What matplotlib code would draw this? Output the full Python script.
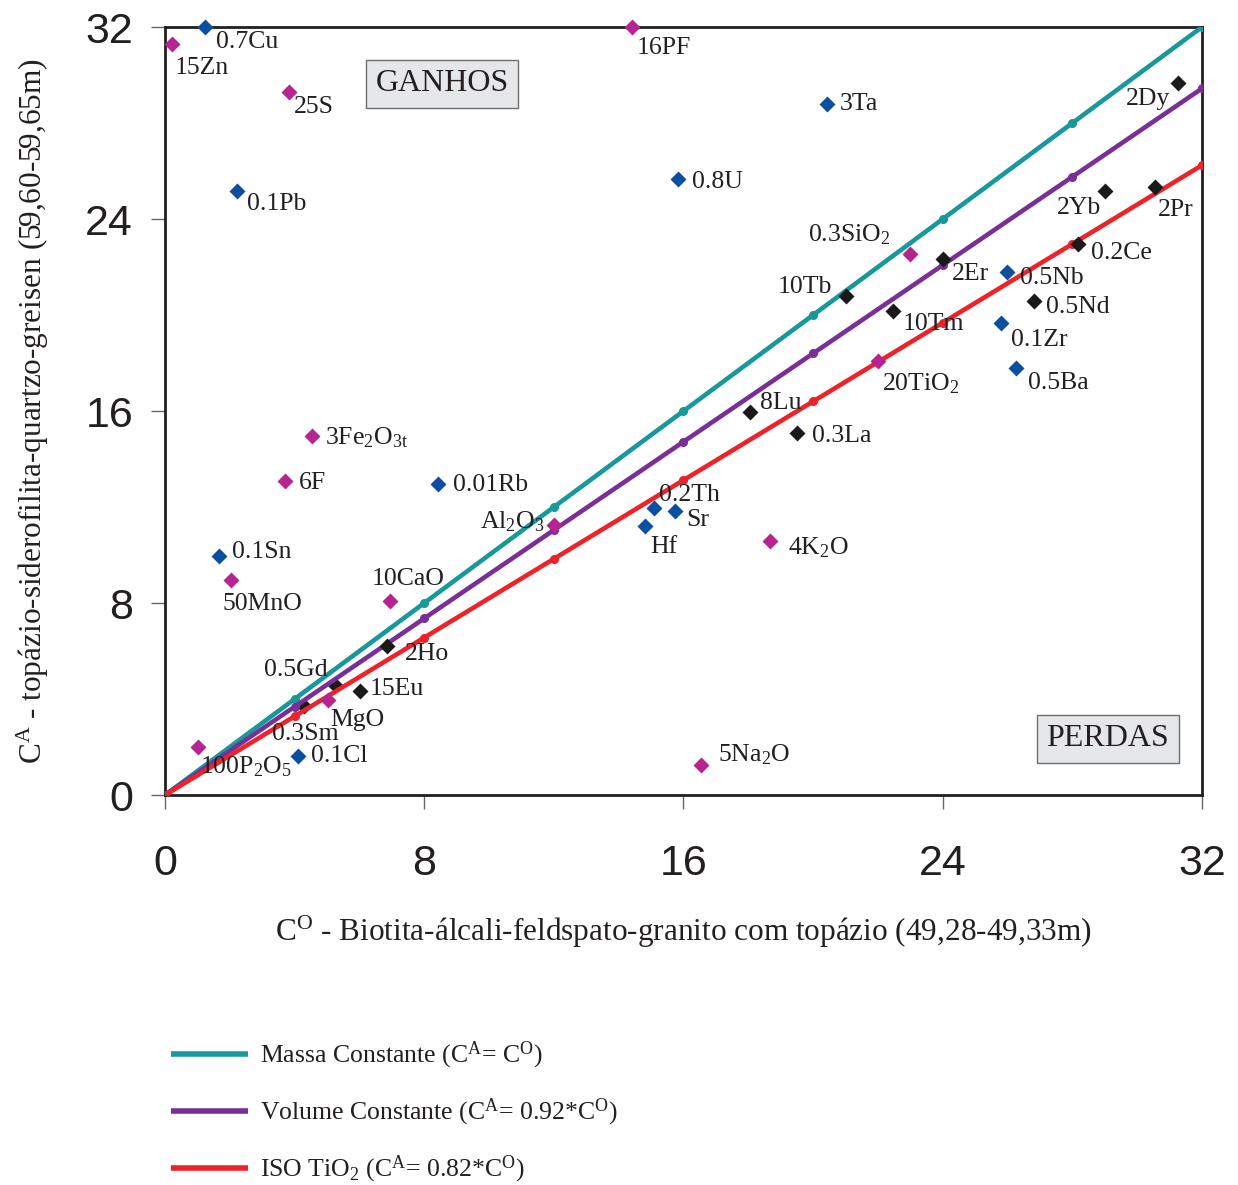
import matplotlib
matplotlib.use("Agg")
import matplotlib.pyplot as plt

plt.rcParams['font.family'] = ['Liberation Serif', 'DejaVu Serif']
plt.rcParams['mathtext.fontset'] = 'custom'
plt.rcParams['mathtext.rm'] = 'Liberation Serif'
plt.rcParams['mathtext.default'] = 'regular'

TXT = '#231f20'

# isocon lines: C^A = k * C^O
iso_slopes = [1.0, 0.92, 0.82]
iso_colors = ['#17989a', '#7a2f96', '#ee2229']
iso_labels = [r'Massa Constante (C$^{A}$= C$^{O}$)',
              r'Volume Constante (C$^{A}$= 0.92*C$^{O}$)',
              r'ISO TiO$_{2}$ (C$^{A}$= 0.82*C$^{O}$)']
iso_x = [0, 4, 8, 12, 16, 20, 24, 28, 32]

# scaled concentrations, grouped by symbol colour
blue_names = ['0.7Cu', '0.1Pb', '3Ta', '0.8U', '0.5Nb', '0.1Zr', '0.5Ba',
              '0.01Rb', '0.1Sn', '0.1Cl', '0.2Th', 'Sr', 'Hf']
blue_co = [1.23, 2.22, 20.43, 15.83, 25.99, 25.80, 26.27, 8.43, 1.67, 4.10, 15.09, 15.74, 14.81]
blue_ca = [32.0, 25.17, 28.79, 25.67, 21.79, 19.67, 17.79, 12.96, 9.96, 1.63, 11.96, 11.83, 11.21]

pink_names = ['15Zn', '25S', '16PF', r'0.3SiO$_2$', r'20TiO$_2$', r'3Fe$_2$O$_{3t}$', '6F',
              r'Al$_2$O$_3$', '50MnO', '10CaO', 'MgO', r'4K$_2$O', r'5Na$_2$O', r'100P$_2$O$_5$']
pink_co = [0.22, 3.83, 14.41, 22.99, 22.0, 4.54, 3.70, 12.0, 2.04, 6.94, 5.03, 18.67, 16.54, 1.02]
pink_ca = [31.29, 29.29, 32.0, 22.54, 18.08, 14.96, 13.08, 11.25, 8.96, 8.08, 3.96, 10.58, 1.25, 2.0]

black_names = ['2Dy', '2Yb', '2Pr', '0.2Ce', '2Er', '10Tb', '10Tm', '0.5Nd', '8Lu',
               '0.3La', '2Ho', '15Eu', '0.5Gd', '0.3Sm']
black_co = [31.27, 29.01, 30.56, 28.18, 24.01, 21.02, 22.47, 26.82, 18.06, 19.51, 6.85, 6.02, 5.25, 4.3]
black_ca = [29.67, 25.17, 25.33, 22.96, 22.33, 20.79, 20.17, 20.58, 15.96, 15.08, 6.21, 4.33, 4.58, 3.7]

# points that sit underneath the isocon lines
under_lines = ['0.3Sm', '0.5Gd']

# label placement: offset in pixels from the marker and horizontal alignment
label_pos = {
    '0.7Cu': (11, -15, 'left'), '0.1Pb': (10, -13, 'left'), '3Ta': (13, 0, 'left'),
    '0.8U': (14, -3, 'left'), '0.5Nb': (13, -6, 'left'), '0.1Zr': (10, -17, 'left'),
    '0.5Ba': (12, -15, 'left'), '0.01Rb': (15, -1, 'left'), '0.1Sn': (13, 4, 'left'),
    '0.1Cl': (13, 0, 'left'), '0.2Th': (5, 13, 'left'), 'Sr': (11, -9, 'left'),
    'Hf': (5, -21, 'left'),
    '15Zn': (3, -24, 'left'), '25S': (5, -15, 'left'), '16PF': (5, -21, 'left'),
    r'0.3SiO$_2$': (-20, 19, 'right'), r'20TiO$_2$': (4, -23, 'left'),
    r'3Fe$_2$O$_{3t}$': (13, -2, 'left'), '6F': (14, -2, 'left'),
    r'Al$_2$O$_3$': (-9, 3, 'right'), '50MnO': (-9, -24, 'left'),
    '10CaO': (-18, 22, 'left'), 'MgO': (2, -20, 'left'), r'4K$_2$O': (18, -7, 'left'),
    r'5Na$_2$O': (17, 10, 'left'), r'100P$_2$O$_5$': (2, -20, 'left'),
    '2Dy': (-8, -16, 'right'), '2Yb': (-4, -17, 'right'), '2Pr': (3, -23, 'left'),
    '0.2Ce': (13, -9, 'left'), '2Er': (9, -15, 'left'), '10Tb': (-14, 9, 'right'),
    '10Tm': (10, -13, 'left'), '0.5Nd': (12, -6, 'left'), '8Lu': (10, 9, 'left'),
    '0.3La': (15, -3, 'left'), '2Ho': (18, -8, 'left'), '15Eu': (10, 2, 'left'),
    '0.5Gd': (-8, 15, 'right'), '0.3Sm': (-32, -28, 'left'),
}

fig = plt.figure(figsize=(12.38, 11.85), dpi=100)
ax = fig.add_axes([0.1333, 0.3291, 0.8376, 0.6481])

lines = []
for k, c, lab in zip(iso_slopes, iso_colors, iso_labels):
    ln, = ax.plot(iso_x, [k * v for v in iso_x], color=c, lw=3.3, marker='o',
                  ms=5.5, label=lab, zorder=3, solid_capstyle='butt')
    lines.append(ln)

groups = [(blue_names, blue_co, blue_ca, '#0c4ea2'),
          (pink_names, pink_co, pink_ca, '#b52490'),
          (black_names, black_co, black_ca, '#1a1a1a')]
for names, xs, ys, col in groups:
    for n, x, y in zip(names, xs, ys):
        z = 2 if n in under_lines else 4
        ax.plot(x, y, ls='none', marker='D', ms=8, color=col, mec='none', zorder=z,
                clip_on=False)
        dx, dy, ha = label_pos[n]
        ax.annotate(n, (x, y), xytext=(dx, dy), textcoords='offset pixels',
                    ha=ha, va='center', fontsize=18.5, color=TXT, zorder=5)

ax.text(0.267, 0.926, 'GANHOS', transform=ax.transAxes, ha='center', va='center',
        fontsize=23, color=TXT,
        bbox=dict(boxstyle='square,pad=0.3', fc='#e6e7e8', ec='#6d6e71', lw=1.0))
ax.text(0.909, 0.073, 'PERDAS', transform=ax.transAxes, ha='center', va='center',
        fontsize=23, color=TXT,
        bbox=dict(boxstyle='square,pad=0.3', fc='#e6e7e8', ec='#6d6e71', lw=1.0))

ax.set_xlim(0, 32)
ax.set_ylim(0, 32)
ax.set_xticks([0, 8, 16, 24, 32])
ax.set_yticks([0, 8, 16, 24, 32])
for lab in ax.get_xticklabels() + ax.get_yticklabels():
    lab.set_family('Liberation Sans')
ax.tick_params(labelsize=31, length=10, width=1.0, color='#666666', labelcolor=TXT,
               direction='out')
ax.tick_params(axis='x', pad=25)
ax.tick_params(axis='y', pad=13)
for s in ax.spines.values():
    s.set_linewidth(2.0)
    s.set_color('#231f20')

ax.set_xlabel(r'C$^{O}$ - Biotita-álcali-feldspato-granito com topázio (49,28-49,33m)',
              fontsize=22.5, color=TXT, labelpad=22)
ax.set_ylabel(r'C$^{A}$ - topázio-siderofilita-quartzo-greisen (59,60-59,65m)',
              fontsize=22.5, color=TXT, labelpad=25)

fig.legend(handles=lines, loc='upper left', bbox_to_anchor=(0.13, 0.131),
           frameon=False, fontsize=18.5, handlelength=3.0, handletextpad=0.45,
           labelspacing=1.0, borderaxespad=0)
for lh in fig.legends[0].get_lines():
    lh.set_marker('')
    lh.set_linewidth(4)
for t in fig.legends[0].get_texts():
    t.set_color(TXT)

fig.savefig('out.png', dpi=100)
